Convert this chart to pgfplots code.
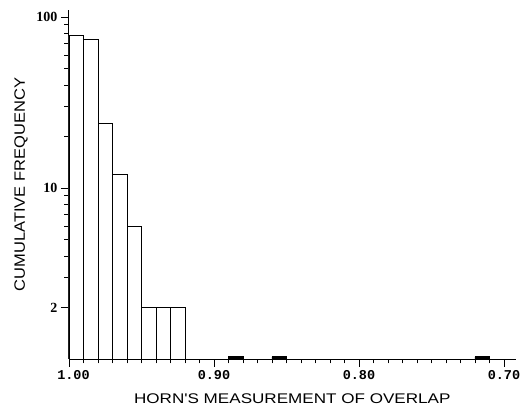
\documentclass[border=0pt]{standalone}
\usepackage{pgfplots}
\pgfplotsset{compat=1.18}
\usepackage{fontspec}
\usepackage{graphicx}
\setmainfont{Liberation Sans}
\newfontfamily\monofnt{Liberation Mono}
\newfontfamily\seriffnt{Liberation Serif}
\begin{document}
\begin{tikzpicture}
\useasboundingbox (0,0) rectangle (530pt,408pt);
\begin{axis}[
  at={(69pt,49pt)}, anchor=south west,
  scale only axis, width=446.6pt, height=349pt,
  x dir=reverse, xmin=0.692, xmax=1.0,
  ymode=log, ymin=1, ymax=110,
  axis x line*=bottom, axis y line*=left,
  axis line style={line width=1pt, black},
  xtick={0.7,0.8,0.9,1.0},
  xticklabels={0.70,0.80,0.90,\hspace*{9pt}1.00},
  minor x tick num=9,
  ytick={2,10,100},
  yticklabels={2,10,100},
  minor ytick={3,4,5,6,7,8,9,20,30,40,50,60,70,80,90},
  tick align=outside,
  major tick length=8pt, minor tick length=4.5pt,
  tick style={black, line width=0.8pt},
  xticklabel style={font=\fontsize{13.5}{15}\selectfont\monofnt\bfseries},
  yticklabel style={font=\fontsize{14}{16}\selectfont\seriffnt\bfseries},
  xlabel={\scalebox{1.22}[1]{HORN\textquotesingle S MEASUREMENT OF OVERLAP}},
  xlabel style={font=\fontsize{14}{16}\selectfont, at={(axis description cs:0.5,-0.1146)}, anchor=center},
  ylabel={\scalebox{1.1}[1]{CUMULATIVE FREQUENCY}},
  ylabel style={font=\fontsize{15}{17}\selectfont, at={(axis description cs:-0.1075,0.5)}, anchor=center},
]
\addplot[ybar, bar width=0.01, bar shift=0pt, fill=white, draw=black, line width=0.8pt]
  coordinates {(0.995,78) (0.985,74) (0.975,24) (0.965,12) (0.955,6)
               (0.945,2) (0.935,2) (0.925,2)};
\addplot[ybar, bar width=0.01, bar shift=0pt, fill=black, draw=black, line width=0.8pt]
  coordinates {(0.885,1.03) (0.855,1.03) (0.715,1.03)};
\end{axis}
\end{tikzpicture}
\end{document}
